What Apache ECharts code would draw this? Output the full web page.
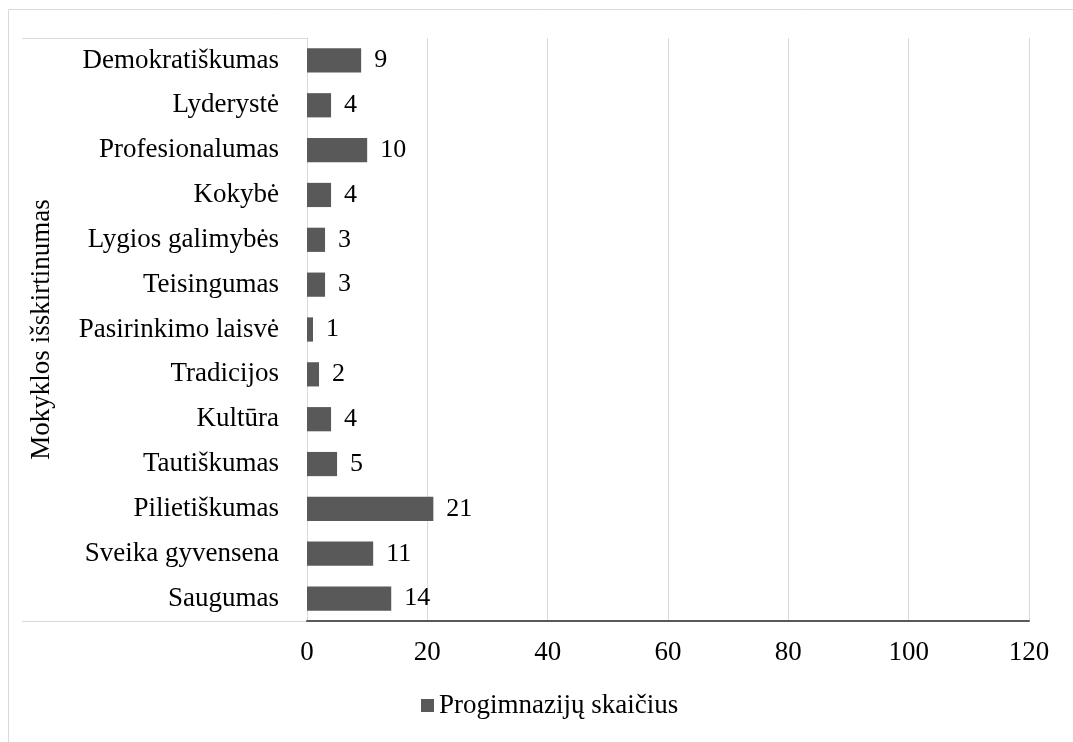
<!DOCTYPE html>
<html>
<head>
<meta charset="utf-8">
<script src="https://cdn.jsdelivr.net/npm/echarts@6/dist/echarts.min.js"></script>
<style>
  html, body { margin: 0; padding: 0; background: #fff; }
  #chart { width: 1073px; height: 742px; }
</style>
</head>
<body>
<div id="chart"></div>
<script>
// data (top to bottom)
var categories = ['Demokratiškumas', 'Lyderystė', 'Profesionalumas', 'Kokybė', 'Lygios galimybės',
  'Teisingumas', 'Pasirinkimo laisvė', 'Tradicijos', 'Kultūra', 'Tautiškumas',
  'Pilietiškumas', 'Sveika gyvensena', 'Saugumas'];
var values = [9, 4, 10, 4, 3, 3, 1, 2, 4, 5, 21, 11, 14];
var seriesName = 'Progimnazijų skaičius';
var axisTitle = 'Mokyklos išskirtinumas';

var font = 'Liberation Serif, Times New Roman, serif';
var fs = 27;
var myChart = echarts.init(document.getElementById('chart'));

var option = {
  animation: false,
  textStyle: { fontFamily: font },
  grid: { left: 307, right: 44, top: 38, bottom: 121 },
  legend: {
    data: [seriesName],
    bottom: 18,
    left: 416,
    icon: 'rect',
    itemWidth: 13,
    itemHeight: 13,
    itemGap: 5,
    textStyle: { fontFamily: font, fontSize: fs, color: '#000' }
  },
  xAxis: {
    type: 'value',
    min: 0,
    max: 120,
    interval: 20,
    axisLine: { show: true, lineStyle: { color: '#595959', width: 2 } },
    axisTick: { show: false },
    splitLine: { lineStyle: { color: '#d9d9d9', width: 1 } },
    axisLabel: { margin: 18, fontSize: fs, color: '#000', fontFamily: font }
  },
  yAxis: {
    type: 'category',
    data: categories,
    inverse: true,
    name: axisTitle,
    nameLocation: 'middle',
    nameRotate: 90,
    nameGap: 252,
    nameTextStyle: { fontSize: fs, color: '#000', fontFamily: font },
    axisLine: { show: true, lineStyle: { color: '#d9d9d9' } },
    axisTick: { show: false },
    axisLabel: { margin: 28, fontSize: fs, color: '#000', fontFamily: font }
  },
  series: [
    {
      name: seriesName,
      type: 'bar',
      data: values,
      barWidth: '54%',
      itemStyle: { color: '#595959' },
      label: {
        show: true,
        position: 'right',
        distance: 13,
        fontSize: fs - 1,
        color: '#000',
        fontFamily: font
      }
    }
  ],
  graphic: [
    // outer chart frame
    { type: 'rect', shape: { x: 8.5, y: 9.5, width: 1200, height: 900 },
      style: { fill: 'none', stroke: '#d9d9d9', lineWidth: 1 }, silent: true },
    // category area borders
    { type: 'line', shape: { x1: 22, y1: 38.5, x2: 307, y2: 38.5 },
      style: { stroke: '#d9d9d9', lineWidth: 1 }, silent: true },
    { type: 'line', shape: { x1: 22, y1: 621.5, x2: 307, y2: 621.5 },
      style: { stroke: '#d9d9d9', lineWidth: 1 }, silent: true }
  ]
};

myChart.setOption(option);
</script>
</body>
</html>
